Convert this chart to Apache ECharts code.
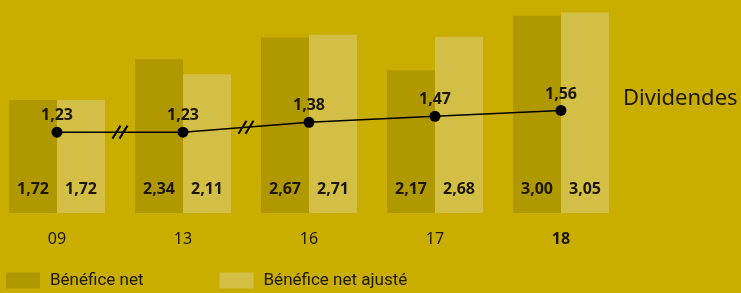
<!DOCTYPE html>
<html>
<head>
<meta charset="utf-8">
<script src="https://cdn.jsdelivr.net/npm/echarts@6/dist/echarts.min.js"></script>
<style>
  html, body { margin: 0; padding: 0; background: #c9ae00; }
  #chart { width: 741px; height: 293px; }
</style>
</head>
<body>
<div id="chart"></div>
<script>
  // données
  var years = ['09', '13', '16', '17', '18'];
  var beneficeNet = [1.72, 2.34, 2.67, 2.17, 3.00];
  var beneficeAjuste = [1.72, 2.11, 2.71, 2.68, 3.05];
  var dividendes = [1.23, 1.23, 1.38, 1.47, 1.56];
  // ruptures d'échelle entre ces catégories
  var breaks = [[0, 1], [1, 2]];

  var colorDark = '#b09900';
  var colorLight = '#d4bf46';
  var textColor = '#1c1700';
  var numFont = '"Noto Sans", sans-serif';

  function fmt(v) {
    return v.toFixed(2).replace('.', ',');
  }

  var myChart = echarts.init(document.getElementById('chart'));
  var option = {
    backgroundColor: '#c9ae00',
    animation: false,
    grid: {
      left: -6,
      right: 117,
      top: 0,
      bottom: 80,
      containLabel: false,
      outerBoundsMode: 'none'
    },
    legend: {
      left: 1,
      top: 267,
      icon: 'rect',
      itemWidth: 34,
      itemHeight: 16,
      itemGap: 76,
      data: ['Bénéfice net', 'Bénéfice net ajusté'],
      textStyle: {
        color: textColor,
        fontSize: 17,
        padding: [0, 0, 0, 5],
        fontFamily: 'Roboto, sans-serif'
      }
    },
    xAxis: [{
      type: 'category',
      data: years,
      axisLine: {show: false},
      axisTick: {show: false},
      axisLabel: {
        margin: 18,
        color: textColor,
        fontSize: 16,
        fontFamily: numFont,
        formatter: function (v, i) {
          return i === years.length - 1 ? '{b|' + v + '}' : v;
        },
        rich: {
          b: {fontWeight: 'bold', fontSize: 16, color: textColor, fontFamily: numFont}
        }
      }
    }],
    yAxis: [{
      type: 'value',
      min: 0,
      max: 3.24,
      show: false,
      splitLine: {show: false}
    }],
    series: [
      {
        name: 'Bénéfice net',
        type: 'bar',
        barWidth: 48,
        barGap: 0,
        itemStyle: {color: colorDark},
        label: {
          show: true,
          position: 'insideBottom',
          distance: 16,
          color: textColor,
          fontSize: 16,
          fontWeight: 'bold',
          fontFamily: numFont,
          formatter: function (p) { return fmt(p.value); }
        },
        data: beneficeNet
      },
      {
        name: 'Bénéfice net ajusté',
        type: 'bar',
        barWidth: 48,
        barGap: 0,
        itemStyle: {color: colorLight},
        label: {
          show: true,
          position: 'insideBottom',
          distance: 16,
          color: textColor,
          fontSize: 16,
          fontWeight: 'bold',
          fontFamily: numFont,
          formatter: function (p) { return fmt(p.value); }
        },
        data: beneficeAjuste
      },
      {
        name: 'Dividendes',
        type: 'line',
        symbol: 'circle',
        symbolSize: 11,
        itemStyle: {color: '#000'},
        lineStyle: {color: '#000', width: 1.5},
        label: {
          show: true,
          position: 'top',
          distance: 3,
          color: textColor,
          fontSize: 16,
          fontWeight: 'bold',
          fontFamily: numFont,
          formatter: function (p) { return fmt(p.value); }
        },
        z: 5,
        data: dividendes
      }
    ]
  };
  myChart.setOption(option, true);

  // marques de rupture "//" et titre de la courbe, placées via les échelles
  var graphics = [];
  breaks.forEach(function (b) {
    var p0 = myChart.convertToPixel({gridIndex: 0}, [b[0], dividendes[b[0]]]);
    var p1 = myChart.convertToPixel({gridIndex: 0}, [b[1], dividendes[b[1]]]);
    var cx = (p0[0] + p1[0]) / 2;
    var cy = (p0[1] + p1[1]) / 2;
    [-3.5, 3.5].forEach(function (dx) {
      graphics.push({
        type: 'line',
        z: 10,
        shape: {x1: cx + dx - 4, y1: cy + 6.5, x2: cx + dx + 4, y2: cy - 6.5},
        style: {stroke: '#000', lineWidth: 2}
      });
    });
  });
  var last = myChart.convertToPixel({gridIndex: 0}, [years.length - 1, dividendes[dividendes.length - 1]]);
  graphics.push({
    type: 'text',
    x: last[0] + 62,
    y: last[1] - 12,
    style: {
      text: 'Dividendes',
      fill: textColor,
      font: '22px "Noto Sans", sans-serif',
      verticalAlign: 'middle'
    }
  });
  myChart.setOption({graphic: graphics});
</script>
</body>
</html>
